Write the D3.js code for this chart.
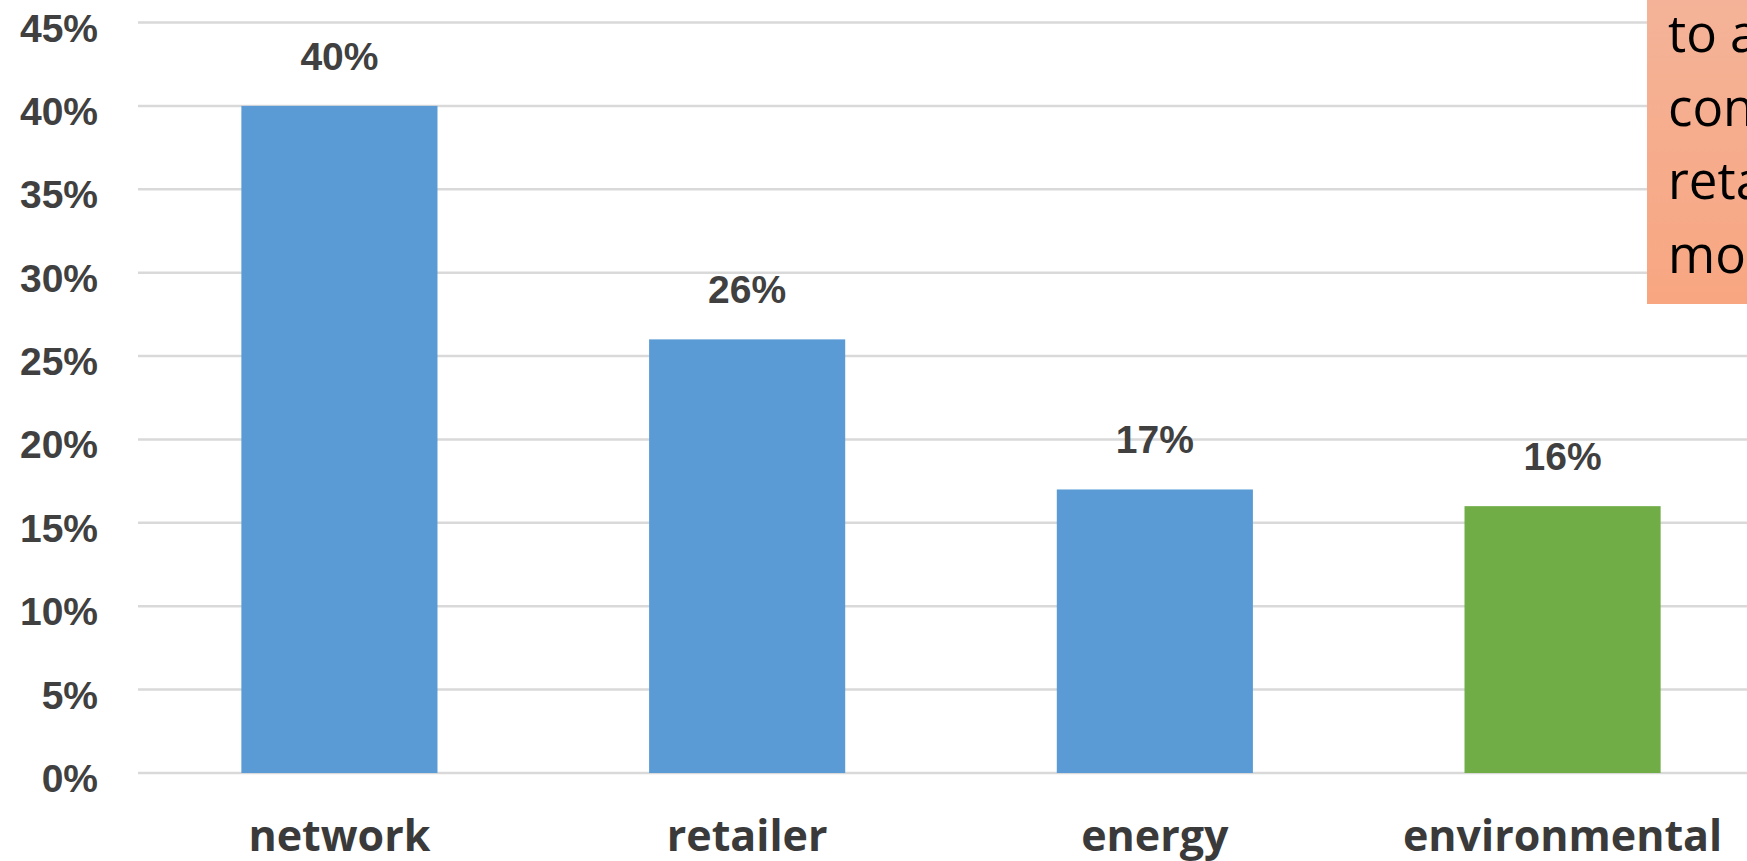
<!DOCTYPE html>
<html>
<head>
<meta charset="utf-8">
<script src="https://cdn.jsdelivr.net/npm/d3@7"></script>
<style>
  body { margin: 0; background: #fff; overflow: hidden; }
  .tick-label, .value-label { font-family: "Liberation Sans", Arial, sans-serif; font-weight: bold; fill: #404040; }
  .cat-label { font-family: "Open Sans", sans-serif; font-weight: bold; fill: #3a3a3a; }
  .note-text { font-family: "Open Sans", sans-serif; fill: #000; }
</style>
</head>
<body>
<svg id="chart"></svg>
<script>
// data
const categories = ["network", "retailer", "energy", "environmental"];
const shares = [40, 26, 17, 16];
const yTicks = [0, 5, 10, 15, 20, 25, 30, 35, 40, 45];
const highlighted = "environmental";
const noteLines = ["to a", "con", "reta", "mo"];

const width = 1747, height = 861;

const svg = d3.select("#chart")
    .attr("width", width)
    .attr("height", height);

// scales
const y = d3.scaleLinear()
    .domain([0, 45])
    .range([773, 22.5]);

const x = d3.scaleBand()
    .domain(categories)
    .range([137, 1765])
    .paddingInner(0.519)
    .paddingOuter(0.256);

// gridlines
svg.append("g")
    .selectAll("line")
    .data(yTicks)
    .join("line")
      .attr("x1", 138)
      .attr("x2", width)
      .attr("y1", d => y(d))
      .attr("y2", d => y(d))
      .attr("stroke", "#d9d9d9")
      .attr("stroke-width", 2.5);

// y axis labels
svg.append("g")
    .selectAll("text")
    .data(yTicks)
    .join("text")
      .attr("class", "tick-label")
      .attr("x", 98)
      .attr("y", d => y(d) + 19)
      .attr("text-anchor", "end")
      .attr("font-size", "39px")
      .text(d => d + "%");

// bars
svg.append("g")
    .selectAll("rect")
    .data(categories)
    .join("rect")
      .attr("x", d => x(d))
      .attr("width", x.bandwidth())
      .attr("y", (d, i) => y(shares[i]))
      .attr("height", (d, i) => y(0) - y(shares[i]))
      .attr("fill", d => d === highlighted ? "#70ad47" : "#5b9bd5");

// value labels
svg.append("g")
    .selectAll("text")
    .data(categories)
    .join("text")
      .attr("class", "value-label")
      .attr("x", d => x(d) + x.bandwidth() / 2)
      .attr("y", (d, i) => y(shares[i]) - 36)
      .attr("text-anchor", "middle")
      .attr("font-size", "39px")
      .text((d, i) => shares[i] + "%");

// category labels
svg.append("g")
    .selectAll("text")
    .data(categories)
    .join("text")
      .attr("class", "cat-label")
      .attr("x", d => x(d) + x.bandwidth() / 2)
      .attr("y", 851)
      .attr("text-anchor", "middle")
      .attr("font-size", "43px")
      .text(d => d);

// note box, cut by the right edge
const grad = svg.append("defs").append("linearGradient")
    .attr("id", "noteFill")
    .attr("x1", 0).attr("y1", 0).attr("x2", 0).attr("y2", 1);
grad.append("stop").attr("offset", "0%").attr("stop-color", "#f4b398");
grad.append("stop").attr("offset", "100%").attr("stop-color", "#f8a681");

svg.append("rect")
    .attr("x", 1647)
    .attr("y", 0)
    .attr("width", width - 1647)
    .attr("height", 304)
    .attr("fill", "url(#noteFill)");

svg.append("g")
    .selectAll("text")
    .data(noteLines)
    .join("text")
      .attr("class", "note-text")
      .attr("x", 1668)
      .attr("y", (d, i) => 52 + i * 73.7)
      .attr("font-size", "51px")
      .text(d => d);
</script>
</body>
</html>
